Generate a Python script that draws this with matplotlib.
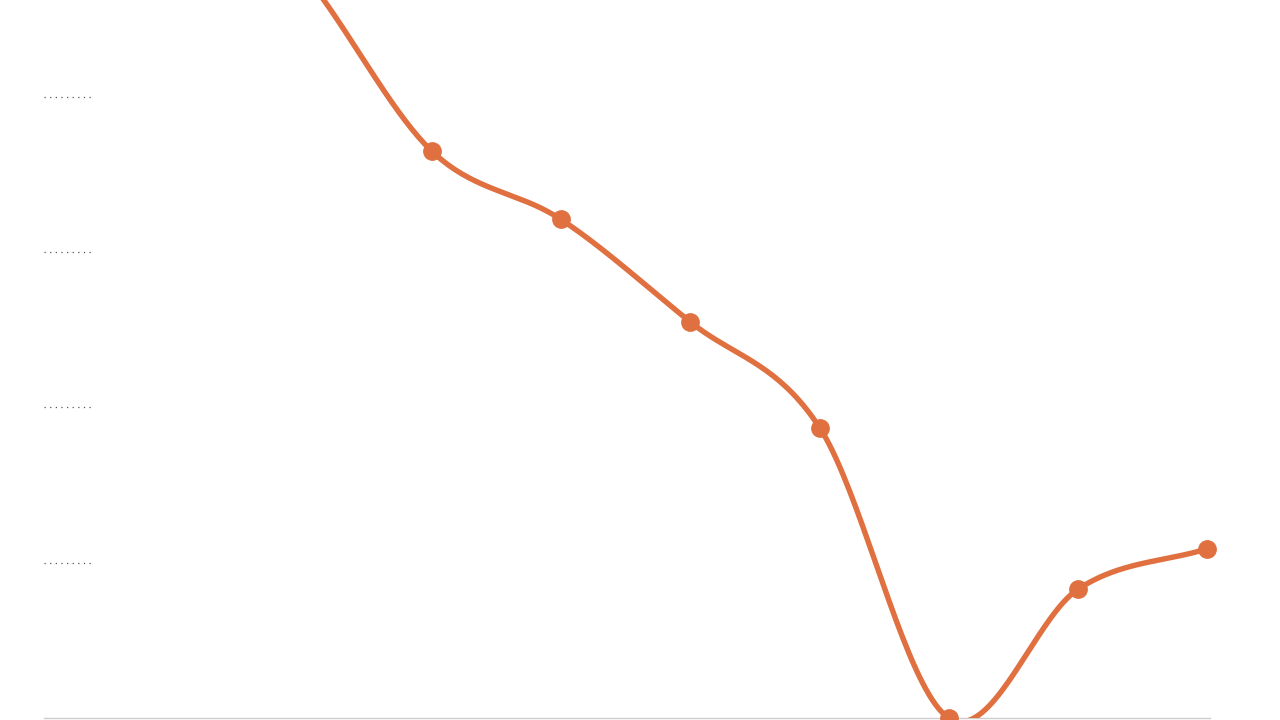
import numpy as np
import matplotlib.pyplot as plt

# Series values (index positions 0..9); the first points run off the top of the view
x_index = [1, 2, 3, 4, 5, 6, 7, 8, 9]
values = [5.6, 4.8, 3.65, 3.21, 2.55, 1.87, 0.0, 0.83, 1.09]
gridlines = [1, 2, 3, 4]

line_color = '#E07040'


def catmull_rom(xs, ys, n=40):
    xs = np.asarray(xs, float)
    ys = np.asarray(ys, float)
    px = np.concatenate([[2 * xs[0] - xs[1]], xs, [2 * xs[-1] - xs[-2]]])
    py = np.concatenate([[2 * ys[0] - ys[1]], ys, [2 * ys[-1] - ys[-2]]])
    out_x, out_y = [], []
    t = np.linspace(0, 1, n)
    for i in range(1, len(px) - 2):
        for p, out in ((px, out_x), (py, out_y)):
            p0, p1, p2, p3 = p[i - 1], p[i], p[i + 1], p[i + 2]
            seg = 0.5 * ((2 * p1) + (-p0 + p2) * t
                         + (2 * p0 - 5 * p1 + 4 * p2 - p3) * t ** 2
                         + (-p0 + 3 * p1 - 3 * p2 + p3) * t ** 3)
            out.extend(seg)
    return np.array(out_x), np.array(out_y)


fig = plt.figure(figsize=(12.8, 7.2), dpi=100)
ax = fig.add_axes([44 / 1280, 2 / 720, (1210 - 44) / 1280, 718 / 720])

sx, sy = catmull_rom(x_index, values)
ax.plot(sx, sy, color=line_color, linewidth=3.9, solid_capstyle='round', zorder=3)
ax.plot(x_index, values, 'o', color=line_color, markersize=12.5, zorder=4,
        clip_on=False)

ax.hlines(gridlines, 0, 0.39, colors='#555555', linestyles=(0, (1, 3.5)), linewidth=0.9)

ax.set_xlim(0, 9.02)
ax.set_ylim(0, 718 / 155.3)
for side in ['top', 'right', 'left']:
    ax.spines[side].set_visible(False)
ax.spines['bottom'].set_color('#cccccc')
ax.spines['bottom'].set_linewidth(1)
ax.set_xticks([])
ax.set_yticks([])

fig.savefig('out.png', dpi=100)
